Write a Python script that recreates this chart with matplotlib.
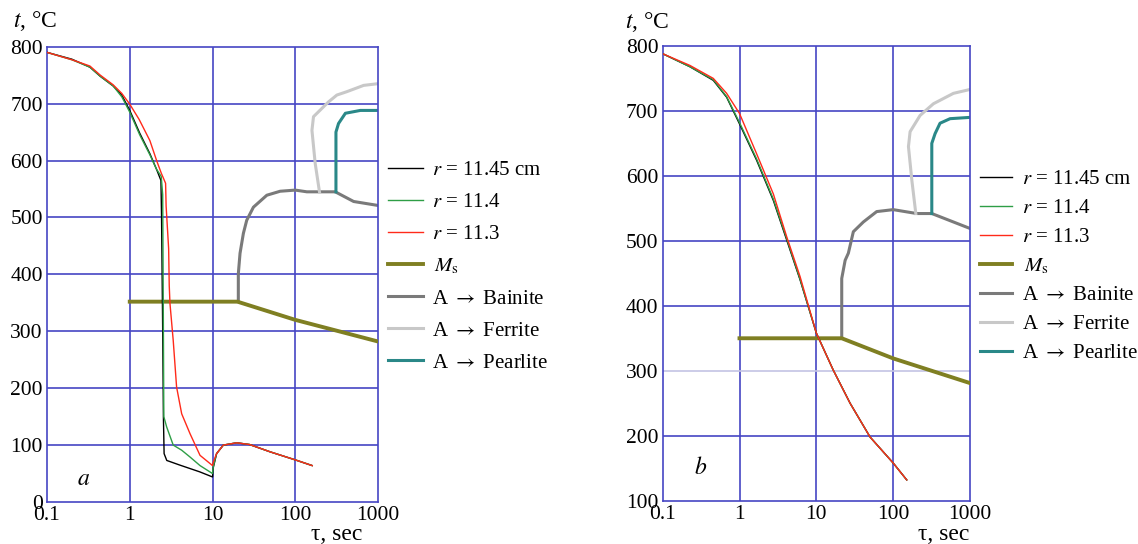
import matplotlib
matplotlib.use("Agg")
import matplotlib.pyplot as plt

plt.rcParams['font.family'] = ['Liberation Serif', 'DejaVu Serif']
plt.rcParams['mathtext.fontset'] = 'stix'

# ---------------- data: panel a ----------------
a_tau_r1145 = [0.1, 0.2, 0.33, 0.44, 0.63, 0.8, 1.0, 1.32, 1.75, 2.1, 2.38, 2.42, 2.5, 2.55, 2.6, 2.8, 4.0, 7.0, 10.0, 10.2, 11.2, 13.5, 19.6, 28, 50, 100, 160]
a_t_r1145 = [790, 778, 764, 748, 731, 715, 688, 648, 612, 585, 565, 505, 300, 150, 85, 73, 65, 53, 44, 60, 85, 100, 104, 101, 88, 74, 64]
a_tau_r114 = [0.1, 0.2, 0.33, 0.44, 0.63, 0.8, 1.0, 1.32, 1.75, 2.1, 2.4, 2.5, 2.55, 2.58, 2.79, 3.35, 4.24, 5.35, 7.06, 10.0, 10.2, 11.2, 13.5, 19.6, 28, 50, 100, 160]
a_t_r114 = [790, 777, 764, 748, 731, 712, 685, 645, 610, 585, 572, 540, 300, 150, 132, 100, 91, 79, 64, 50, 62, 85, 100, 104, 101, 88, 74, 64]
a_tau_r113 = [0.1, 0.2, 0.33, 0.44, 0.63, 0.8, 1.0, 1.3, 1.75, 2.11, 2.4, 2.71, 2.75, 2.95, 3.0, 3.06, 3.35, 3.68, 4.24, 5.35, 7.06, 10.0, 10.2, 11.2, 13.5, 19.6, 28, 50, 100, 160]
a_t_r113 = [790, 777, 766, 750, 733, 718, 699, 672, 635, 600, 578, 560, 520, 445, 380, 349, 284, 202, 155, 120, 82, 64, 70, 85, 100, 104, 101, 88, 74, 64]
a_tau_ms = [1, 20, 100, 1000]
a_t_ms = [352, 352, 320, 282]
a_tau_bain = [20.5, 20.5, 21.5, 23.6, 25.9, 31.2, 45.3, 65.6, 100, 138, 196, 304, 507, 1000]
a_t_bain = [352, 401, 437, 472, 495, 518, 539, 546, 548, 545, 545, 545, 528, 521]
a_tau_ferr = [196, 174, 159, 166, 252, 318, 421, 670, 1000]
a_t_ferr = [545, 595, 653, 677, 703, 715, 721, 732, 735]
a_tau_pear = [310, 310, 333, 403, 611, 1000]
a_t_pear = [545, 650, 665, 683, 688, 688]

# ---------------- data: panel b ----------------
b_tau_r = [0.1, 0.226, 0.456, 0.68, 1.0, 1.67, 2.76, 4.12, 6.14, 10, 16.6, 27.5, 50, 100, 150]
b_t_r1145 = [788, 768, 747, 721, 680, 624, 562, 501, 440, 358, 301, 250, 198, 158, 132]
b_t_r114 = [788, 768, 748, 722, 682, 626, 564, 503, 441, 358, 301, 250, 198, 158, 132]
b_t_r113 = [788, 770, 750, 727, 696, 634, 572, 506, 445, 358, 301, 250, 198, 158, 132]
b_tau_ms = [1, 21.4, 100, 1000]
b_t_ms = [350, 350, 319, 281]
b_tau_bain = [21.4, 21.4, 23.7, 26.1, 30.3, 40.9, 61, 100, 203, 318, 608, 1000]
b_t_bain = [350, 442, 470, 481, 514, 529, 545, 548, 542, 542, 529, 519]
b_tau_ferr = [197, 175, 158, 166, 224, 334, 608, 1000]
b_t_ferr = [542, 593, 645, 668, 693, 711, 727, 733]
b_tau_pear = [318, 318, 351, 407, 550, 1000]
b_t_pear = [542, 650, 665, 681, 688, 690]

x_ticks = [0.1, 1, 10, 100, 1000]
x_labels = ['0.1', '1', '10', '100', '1000']
a_y_ticks = [0, 100, 200, 300, 400, 500, 600, 700, 800]
b_y_ticks = [100, 200, 300, 400, 500, 600, 700, 800]

labels = [r'$r$ = 11.45 cm', r'$r$ = 11.4', r'$r$ = 11.3', r'$\,M_\mathrm{s}$',
          r'A $\rightarrow$ Bainite', r'A $\rightarrow$ Ferrite', r'A $\rightarrow$ Pearlite']

C_BLACK = '#000000'
C_GREEN = '#2e9e46'
C_RED = '#ff2a1a'
C_MS = '#7f7f22'
C_BAIN = '#7a7a7a'
C_FERR = '#c8c8c8'
C_PEAR = '#2a8888'
C_GRID = '#4646c4'

fig = plt.figure(figsize=(11.38, 5.44), dpi=100)
axa = fig.add_axes([0.0413, 0.0772, 0.2909, 0.837])
axb = fig.add_axes([0.5823, 0.0796, 0.2701, 0.836])


def style(ax, yticks, ylim, light_line=None):
    ax.set_xscale('log')
    ax.set_xlim(0.1, 1000)
    ax.set_ylim(*ylim)
    ax.set_xticks(x_ticks)
    ax.set_xticklabels(x_labels)
    ax.minorticks_off()
    ax.set_yticks(yticks)
    ax.tick_params(length=0, labelsize=15.5, pad=3)
    for s in ax.spines.values():
        s.set_color(C_GRID)
        s.set_linewidth(1.2)
    for xv in x_ticks[1:-1]:
        ax.axvline(xv, color=C_GRID, lw=1.2, zorder=0)
    for yv in yticks[1:-1]:
        c = '#c4c4e4' if yv == light_line else C_GRID
        ax.axhline(yv, color=c, lw=1.2, zorder=0)


style(axa, a_y_ticks, (0, 800))
style(axb, b_y_ticks, (100, 800), light_line=300)

handles_a = []
handles_a += axa.plot(a_tau_bain, a_t_bain, color=C_BAIN, lw=2.2, zorder=2)
handles_a += axa.plot(a_tau_ferr, a_t_ferr, color=C_FERR, lw=2.2, zorder=2)
handles_a += axa.plot(a_tau_pear, a_t_pear, color=C_PEAR, lw=2.2, zorder=2)
handles_a = (axa.plot(a_tau_r1145, a_t_r1145, color=C_BLACK, lw=1.0, zorder=4)
             + axa.plot(a_tau_r114, a_t_r114, color=C_GREEN, lw=1.0, zorder=4)
             + axa.plot(a_tau_r113, a_t_r113, color=C_RED, lw=1.0, zorder=4)
             + axa.plot(a_tau_ms, a_t_ms, color=C_MS, lw=2.8, zorder=3)
             + handles_a)

handles_b = []
handles_b += axb.plot(b_tau_bain, b_t_bain, color=C_BAIN, lw=2.2, zorder=2)
handles_b += axb.plot(b_tau_ferr, b_t_ferr, color=C_FERR, lw=2.2, zorder=2)
handles_b += axb.plot(b_tau_pear, b_t_pear, color=C_PEAR, lw=2.2, zorder=2)
handles_b = (axb.plot(b_tau_r, b_t_r1145, color=C_BLACK, lw=1.0, zorder=4)
             + axb.plot(b_tau_r, b_t_r114, color=C_GREEN, lw=1.0, zorder=4)
             + axb.plot(b_tau_r, b_t_r113, color=C_RED, lw=1.0, zorder=5)
             + axb.plot(b_tau_ms, b_t_ms, color=C_MS, lw=2.8, zorder=3)
             + handles_b)

axa.legend(handles_a, labels, loc='upper left', bbox_to_anchor=(1.031, 0.750),
           frameon=False, fontsize=15, handlelength=1.68, handletextpad=0.43,
           labelspacing=0.6, borderaxespad=0, borderpad=0)
axb.legend(handles_b, labels, loc='upper left', bbox_to_anchor=(1.0325, 0.728),
           frameon=False, fontsize=15, handlelength=1.54, handletextpad=0.48,
           labelspacing=0.45, borderaxespad=0, borderpad=0)

# axis titles
fig.text(13 / 1138, 1 - 21 / 544, r'$t$, °C', fontsize=17, va='center', ha='left')
fig.text(625 / 1138, 1 - 21.5 / 544, r'$t$, °C', fontsize=17, va='center', ha='left')
fig.text(362 / 1138, 1 - 535 / 544, 'τ, sec', fontsize=17, va='center', ha='right')
fig.text(969 / 1138, 1 - 535 / 544, 'τ, sec', fontsize=17, va='center', ha='right')

axa.text(0.28, 40, r'$a$', fontsize=17, ha='center', va='center')
axb.text(0.31, 150, r'$b$', fontsize=17, ha='center', va='center')

fig.savefig('out.png', dpi=100)
